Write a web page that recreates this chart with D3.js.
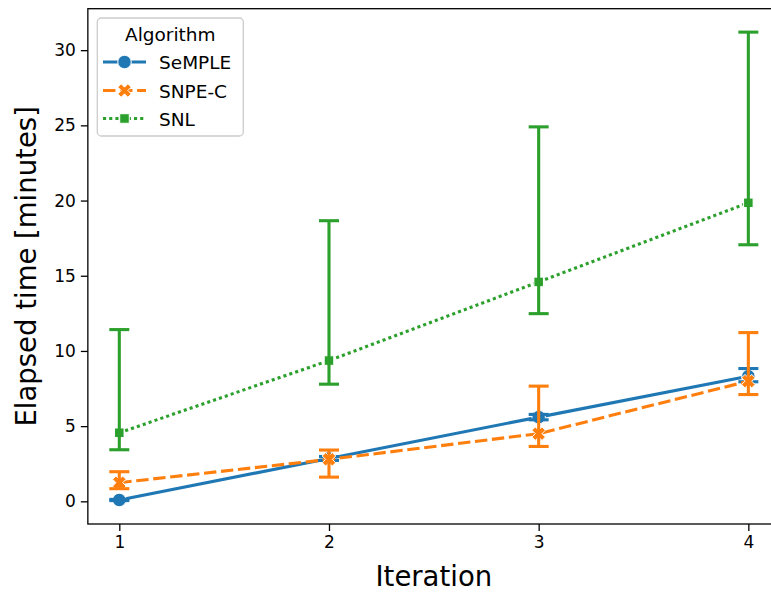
<!DOCTYPE html>
<html>
<head>
<meta charset="utf-8">
<script src="https://cdn.jsdelivr.net/npm/d3@7"></script>
<style>
  body { margin: 0; background: #fff; }
  svg { display: block; font-family: "DejaVu Sans", sans-serif; }
</style>
</head>
<body>
<svg id="chart" width="771" height="592"></svg>
<script>
// data
const iterations = [1, 2, 3, 4]
const algorithms = ['SeMPLE', 'SNPE-C', 'SNL']
const colors = ['#1f77b4', '#ff7f0e', '#2ca02c']

const sempleMean = [0.09, 2.85, 5.6, 8.32]
const sempleLow  = [0.05, 2.72, 5.42, 7.95]
const sempleHigh = [0.13, 2.98, 5.78, 8.83]

const snpeMean = [1.24, 2.79, 4.5, 7.99]
const snpeLow  = [0.84, 1.61, 3.65, 7.1]
const snpeHigh = [1.97, 3.41, 7.66, 11.22]

const snlMean = [4.56, 9.36, 14.59, 19.85]
const snlLow  = [3.43, 7.79, 12.48, 17.06]
const snlHigh = [11.42, 18.66, 24.9, 31.2]

const yTicks = [0, 5, 10, 15, 20, 25, 30]

const series = [
  { name: algorithms[0], mean: sempleMean, low: sempleLow, high: sempleHigh, color: colors[0], dash: null, marker: 'circle' },
  { name: algorithms[1], mean: snpeMean, low: snpeLow, high: snpeHigh, color: colors[1], dash: '12.4,4.65', marker: 'x' },
  { name: algorithms[2], mean: snlMean, low: snlLow, high: snlHigh, color: colors[2], dash: '3.1,3.1', marker: 'square' }
]

const svg = d3.select('#chart')
const LEFT = 87.85, RIGHT = 779.8, TOP = 8.7, BOTTOM = 524
const LW = 3.1

// matplotlib style 5% margins
const x = d3.scaleLinear().domain([0.85, 4.15]).range([LEFT, RIGHT])
const yMin = d3.min(series, s => d3.min(s.low))
const yMax = d3.max(series, s => d3.max(s.high))
const pad = (yMax - yMin) * 0.05
const y = d3.scaleLinear().domain([yMin - pad, yMax + pad]).range([BOTTOM, TOP])

// marker shapes
const MS = 13.5
function markerPath(kind, size) {
  if (kind === 'circle') {
    return d3.symbol(d3.symbolCircle, Math.PI * (size / 2) ** 2)()
  }
  if (kind === 'square') {
    const h = size / Math.SQRT2 / 2
    return `M${-h},${-h}L${h},${-h}L${h},${h}L${-h},${h}Z`
  }
  const pts = [[0.25,0],[0.5,0.25],[0.75,0],[1,0.25],[0.75,0.5],[1,0.75],[0.75,1],[0.5,0.75],[0.25,1],[0,0.75],[0.25,0.5],[0,0.25]]
  return 'M' + pts.map(p => [(p[0] - 0.5) * size, (p[1] - 0.5) * size].join(',')).join('L') + 'Z'
}

const plot = svg.append('g')

series.forEach(s => {
  const g = plot.append('g')
  const line = d3.line().x((d, i) => x(iterations[i])).y(d => y(d))
  g.append('path')
    .attr('d', line(s.mean))
    .attr('fill', 'none')
    .attr('stroke', s.color)
    .attr('stroke-width', LW)
    .attr('stroke-dasharray', s.dash)
    .attr('stroke-linejoin', 'round')
  g.selectAll('.mk')
    .data(s.mean)
    .enter()
    .append('path')
    .attr('d', markerPath(s.marker, MS))
    .attr('transform', (d, i) => `translate(${x(iterations[i])},${y(d)})`)
    .attr('fill', s.color)
    .attr('stroke', '#fff')
    .attr('stroke-width', 1)

  // error bars with caps
  const CAP = 10
  iterations.forEach((it, i) => {
    const cx = x(it)
    g.append('line')
      .attr('x1', cx).attr('x2', cx)
      .attr('y1', y(s.low[i])).attr('y2', y(s.high[i]))
      .attr('stroke', s.color).attr('stroke-width', LW)
    ;[s.low[i], s.high[i]].forEach(v => {
      g.append('line')
        .attr('x1', cx - CAP).attr('x2', cx + CAP)
        .attr('y1', y(v)).attr('y2', y(v))
        .attr('stroke', s.color).attr('stroke-width', LW)
    })
  })
})

// axes
const xAxis = svg.append('g')
  .attr('transform', `translate(0,${BOTTOM})`)
  .call(d3.axisBottom(x).tickValues(iterations).tickSize(7).tickPadding(5).tickFormat(d3.format('d')))
const yAxis = svg.append('g')
  .attr('transform', `translate(${LEFT},0)`)
  .call(d3.axisLeft(y).tickValues(yTicks).tickSize(7).tickPadding(5).tickFormat(d3.format('d')))

;[xAxis, yAxis].forEach(a => {
  a.select('.domain').remove()
  a.selectAll('.tick line').attr('stroke', '#000').attr('stroke-width', 1.3)
  a.selectAll('.tick text')
    .attr('fill', '#000')
    .style('font-size', '17px')
    .style('font-family', '"DejaVu Sans", sans-serif')
})

svg.append('rect')
  .attr('x', LEFT).attr('y', TOP)
  .attr('width', RIGHT - LEFT).attr('height', BOTTOM - TOP)
  .attr('fill', 'none')
  .attr('stroke', '#000')
  .attr('stroke-width', 1.3)

// axis labels
svg.append('text')
  .attr('x', (LEFT + RIGHT) / 2)
  .attr('y', 586)
  .attr('text-anchor', 'middle')
  .style('font-size', '27.5px')
  .text('Iteration')

svg.append('text')
  .attr('transform', `translate(36,${(TOP + BOTTOM) / 2}) rotate(-90)`)
  .attr('text-anchor', 'middle')
  .style('font-size', '27.5px')
  .text('Elapsed time [minutes]')

// legend
const legend = svg.append('g')
legend.append('rect')
  .attr('x', 97.3).attr('y', 18)
  .attr('width', 146).attr('height', 118)
  .attr('rx', 4)
  .attr('fill', '#fff').attr('fill-opacity', 0.8)
  .attr('stroke', '#cccccc').attr('stroke-width', 1.3)

legend.append('text')
  .attr('x', 170.3).attr('y', 41.3)
  .attr('text-anchor', 'middle')
  .style('font-size', '18.5px')
  .text('Algorithm')

const entryY = [62, 90.5, 118.5]
series.forEach((s, i) => {
  const ly = entryY[i]
  legend.append('line')
    .attr('x1', 103).attr('x2', 146)
    .attr('y1', ly).attr('y2', ly)
    .attr('stroke', s.color)
    .attr('stroke-width', LW)
    .attr('stroke-dasharray', s.dash)
  legend.append('path')
    .attr('d', markerPath(s.marker, MS))
    .attr('transform', `translate(124.5,${ly})`)
    .attr('fill', s.color)
    .attr('stroke', '#fff')
    .attr('stroke-width', 1)
  legend.append('text')
    .attr('x', 159)
    .attr('y', ly + 7)
    .style('font-size', '18.5px')
    .text(s.name)
})
</script>
</body>
</html>
